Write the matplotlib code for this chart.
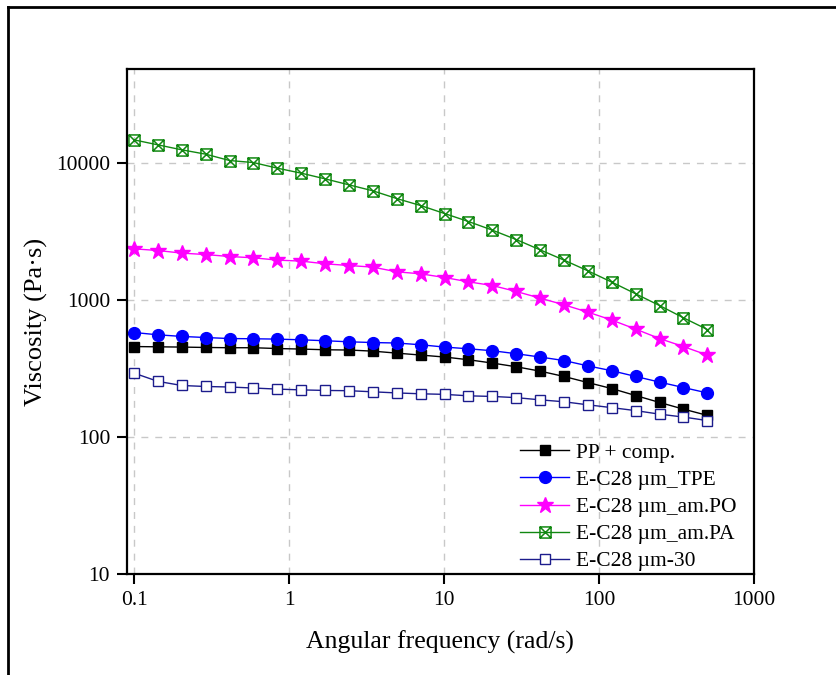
import matplotlib
matplotlib.use('Agg')
import matplotlib.pyplot as plt
from matplotlib.path import Path
from matplotlib.lines import Line2D

plt.rcParams['font.family'] = ['Liberation Serif', 'DejaVu Serif']
plt.rcParams['mathtext.fontset'] = 'stix'

# angular frequency (rad/s)
freq = [0.1, 0.1426, 0.2033, 0.2899, 0.4134, 0.5895, 0.8406, 1.199, 1.709,
        2.437, 3.475, 4.955, 7.065, 10.08, 14.38, 20.50, 29.24, 41.69,
        59.45, 84.77, 120.9, 172.4, 245.8, 350.4, 500.0]

# viscosity (Pa.s)
pp_comp = [458, 456, 454, 451, 449, 449, 443, 439, 434, 432, 424, 410, 397,
           384, 367, 347, 326, 303, 277, 250, 226, 201, 179, 160, 144]
tpe = [580, 558, 543, 533, 524, 522, 519, 513, 505, 496, 490, 486, 472,
       454, 441, 427, 406, 384, 362, 331, 305, 277, 252, 230, 210]
am_po = [2368, 2302, 2203, 2151, 2081, 2036, 1959, 1926, 1841, 1789, 1741,
         1609, 1556, 1462, 1360, 1278, 1156, 1034, 924, 817, 715, 614, 524,
         458, 397]
am_pa = [14790, 13600, 12510, 11630, 10450, 10100, 9190, 8450, 7680, 6945,
         6280, 5515, 4903, 4287, 3748, 3243, 2769, 2328, 1959, 1636, 1353,
         1112, 913, 743, 610]
um30 = [293, 255, 238, 234, 232, 228, 224, 221, 219, 218, 214, 210, 207,
        205, 200, 198, 194, 187, 181, 172, 164, 156, 147, 140, 132]

labels = ['PP + comp.', 'E-C28 µm_TPE', 'E-C28 µm_am.PO',
          'E-C28 µm_am.PA', 'E-C28 µm-30']

# square with a cross inside
box_x = Path([(-1, -1), (1, -1), (1, 1), (-1, 1), (-1, -1),
              (-1, -1), (1, 1), (-1, 1), (1, -1)],
             [Path.MOVETO, Path.LINETO, Path.LINETO, Path.LINETO, Path.CLOSEPOLY,
              Path.MOVETO, Path.LINETO, Path.MOVETO, Path.LINETO])

fig = plt.figure(figsize=(8.37, 6.75), dpi=100)
ax = fig.add_axes([0.1514, 0.1496, 0.7494, 0.7482])

ax.plot(freq, pp_comp, color='black', marker='s', ms=7, lw=1, label=labels[0])
ax.plot(freq, tpe, color='#0000ff', marker='o', ms=8.5, lw=1, label=labels[1])
ax.plot(freq, am_po, color='#ff00ff', marker='*', ms=12, lw=1, label=labels[2])
ax.plot(freq, am_pa, color='#118811', marker=box_x, ms=8, mfc='none',
        mew=1.1, lw=1, label=labels[3])
ax.plot(freq, um30, color='#1c1c8c', marker='s', ms=7.5, mfc='white',
        mew=1, lw=1, label=labels[4])

ax.set_xscale('log')
ax.set_yscale('log')
ax.set_xlim(0.0897, 1000)
ax.set_ylim(10, 48700)
ax.set_xticks([0.1, 1, 10, 100, 1000])
ax.set_xticklabels(['0.1', '1', '10', '100', '1000'])
ax.set_yticks([10, 100, 1000, 10000])
ax.set_yticklabels(['10', '100', '1000', '10000'])
ax.minorticks_off()
ax.tick_params(direction='out', length=7, width=1.5, labelsize=15.5, pad=5)
ax.grid(True, color='#c8c8c8', ls=(0, (5, 5)), lw=1)
for s in ax.spines.values():
    s.set_linewidth(1.6)

ax.set_xlabel('Angular frequency (rad/s)', fontsize=18.5, labelpad=15)
ax.set_ylabel('Viscosity (Pa·s)', fontsize=19, labelpad=6)

ax.legend(loc='lower left', bbox_to_anchor=(0.613, -0.012), frameon=False,
          fontsize=15.5, handlelength=2.3, handletextpad=0.3, labelspacing=0.33,
          borderaxespad=0.0)

# outer frame
fig.add_artist(Line2D([8 / 837, 8 / 837], [0, 1 - 7 / 675], color='black', lw=2))
fig.add_artist(Line2D([8 / 837, 1], [1 - 7 / 675, 1 - 7 / 675], color='black', lw=2))

fig.savefig('out.png', dpi=100)
